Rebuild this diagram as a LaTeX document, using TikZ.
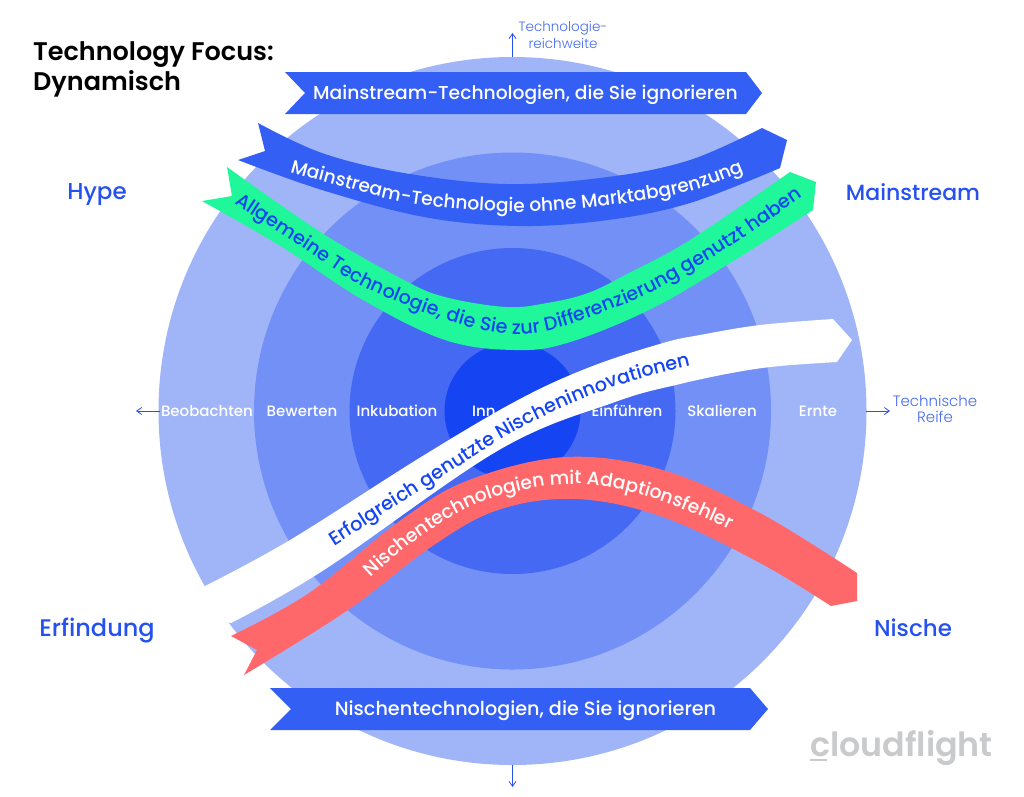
\documentclass[tikz,border=0pt]{standalone}
\usepackage{fontspec}
\setmainfont{Poppins Medium}[BoldFont={Poppins SemiBold}]
\newfontfamily\lightfont{Poppins Light}
\usetikzlibrary{decorations.text,arrows.meta}
\definecolor{ringA}{HTML}{A0B5F8}
\definecolor{ringB}{HTML}{7290F6}
\definecolor{ringC}{HTML}{4569F3}
\definecolor{ringD}{HTML}{1544F2}
\definecolor{ribbonblue}{HTML}{335FF5}
\definecolor{ribbongreen}{HTML}{20F79B}
\definecolor{ribbonred}{HTML}{FF686B}
\definecolor{labelblue}{HTML}{2451F0}
\definecolor{logogray}{HTML}{C9CACC}
\newcommand{\fs}[1]{\fontsize{#1}{#1}\selectfont}
\tikzset{
  ringlabel/.style={text=white,font=\fs{15},inner sep=0pt,anchor=base},
  cornerlabel/.style={text=labelblue,font=\fs{22.5},inner sep=0pt,anchor=base},
  axislabel/.style={text=labelblue!85!white,align=center,inner sep=0pt,anchor=center},
  bannerlabel/.style={text=white,inner sep=0pt,anchor=base},
  titlelabel/.style={anchor=base west,text=black,font=\bfseries\fs{25.5},inner sep=0pt},
  axisarrow/.style={draw=labelblue,line width=0.8pt,-{Straight Barb[length=5pt,width=7pt]}},
}
\begin{document}
\begin{tikzpicture}[x=1pt,y=-1pt]
\useasboundingbox (0,0) rectangle (1024,796);
\fill[white] (0,0) rectangle (1024,796);
% rings
\fill[ringA] (512.5,411) circle[radius=354pt];
\fill[ringB] (512.5,411) circle[radius=258.5pt];
\fill[ringC] (512.5,411) circle[radius=163pt];
\fill[ringD] (512.5,411) circle[radius=68pt];
% axis arrows
\coordinate (axTopA) at (512.5,57); \coordinate (axTopB) at (512.5,33);
\coordinate (axLeftA) at (160,411); \coordinate (axLeftB) at (136,411);
\coordinate (axRightA) at (866,411); \coordinate (axRightB) at (890,411);
\coordinate (axBotA) at (512.5,765); \coordinate (axBotB) at (512.5,787);
\draw[axisarrow] (axTopA) -- (axTopB);
\draw[axisarrow] (axLeftA) -- (axLeftB);
\draw[axisarrow] (axRightA) -- (axRightB);
\draw[axisarrow] (axBotA) -- (axBotB);
% ring labels
\node[ringlabel] (lbeo) at (207,416) {Beobachten};
\node[ringlabel] (lbew) at (302,416) {Bewerten};
\node[ringlabel] (link) at (397,416) {Inkubation};
\node[ringlabel,anchor=base west] (linn) at (472,416) {Inn};
\node[ringlabel] (lein) at (627,416) {Einführen};
\node[ringlabel] (lska) at (722,416) {Skalieren};
\node[ringlabel] (lern) at (818,416) {Ernte};
% banners
\fill[ribbonblue] (285,72) -- (746,72) -- (762,93) -- (746,114) -- (285,114) -- (305,93) -- cycle;
\fill[ribbonblue] (270,688) -- (750,688) -- (768,709) -- (750,730) -- (270,730) -- (291,709) -- cycle;
\node[bannerlabel,font=\fs{18.7}] (btop) at (525.5,99) {Mainstream-Technologien, die Sie ignorieren};
\node[bannerlabel,font=\fs{19.2}] (bbot) at (525.5,715) {Nischentechnologien, die Sie ignorieren};
% blue ribbon
\fill[ribbonblue] (258,123) -- (265,151) -- (238,160)
  -- plot[smooth,tension=0.6] coordinates {(238,160) (322,190) (424,217) (518,226) (608,220) (690,203) (780,168)}
  -- (787,140) -- (762,128)
  -- plot[smooth,tension=0.6] coordinates {(762,128) (690,160) (608,177) (506,184) (404,173) (322,153) (258,123)} -- cycle;
\path[decorate,decoration={text along path,text color=white,text align=left,
  text={|\fs{18.6}|Mainstream-Technologie ohne Marktabgrenzung}}]
  plot[smooth,tension=0.6] coordinates {(290,172) (322,181) (410,203) (515,212) (610,205) (690,191) (760,165) (790,150)};
% green ribbon
\fill[ribbongreen] (227,167) -- (232,196) -- (202,201)
  -- plot[smooth,tension=0.6] coordinates {(202,201) (282,247) (363,300) (445,340) (514,350) (567,343) (649,310) (730,263) (813,210)}
  -- (816,182) -- (790,172)
  -- plot[smooth,tension=0.6] coordinates {(790,172) (690,240) (629,273) (588,293) (547,303) (506,307) (445,297) (404,280) (322,233) (227,167)} -- cycle;
\path[decorate,decoration={text along path,text color=ringD,text align=left,
  text={|\fs{19.2}|Allgemeine Technologie, die Sie zur Differenzierung genutzt haben}}]
  plot[smooth,tension=0.6] coordinates {(234,203) (299,245) (381,295) (510,334) (620,306) (713,257) (804,196) (830,178)};
% white ribbon
\fill[white] (190,615) -- (205,586) -- plot[smooth,tension=0.6] coordinates {(205,586) (290,540) (421,457) (518,400) (590,367) (663,343) (700,335) (760,325) (833,319)}
  -- (852,340) -- (837,362)
  -- plot[smooth,tension=0.6] coordinates {(837,362) (780,366) (737,372) (680,384) (615,402) (499,450) (324,570) (231,623)} -- cycle;
\path[decorate,decoration={text along path,text color=ringD,text align=left,
  text={|\fs{19.2}|Erfolgreich genutzte Nischeninnovationen}}]
  plot[smooth,tension=0.6] coordinates {(334,546) (433,483) (516,431) (603,391) (690,366) (760,355) (800,350)};
% red ribbon
\fill[ribbonred] (231,636) -- (257,650) -- (244,675)
  -- plot[smooth,tension=0.6] coordinates {(244,675) (348,610) (431,547) (498,510) (576,499) (663,517) (760,563) (831,606)}
  -- (857,601) -- (857,573)
  -- plot[smooth,tension=0.6] coordinates {(857,573) (760,513) (663,470) (566,457) (469,480) (401,520) (309,593) (231,636)} -- cycle;
\path[decorate,decoration={text along path,text color=white,text align=left,
  text={|\fs{18.8}|Nischentechnologien mit Adaptionsfehler}}]
  plot[smooth,tension=0.6] coordinates {(371,578) (419,538) (487,500) (571,484) (652,498) (745,537) (800,575)};
% texts
\node[titlelabel] (t1) at (33,60) {Technology Focus:};
\node[titlelabel] (t2) at (33,90) {Dynamisch};
\node[cornerlabel,font=\fs{23}] (chype) at (97,199) {Hype};
\node[cornerlabel,font=\fs{22}] (cmain) at (913,200) {Mainstream};
\node[cornerlabel,font=\fs{24}] (cerf) at (97,636) {Erfindung};
\node[cornerlabel,font=\fs{23}] (cnis) at (913,636) {Nische};
\node[axislabel,font=\lightfont\fs{13.5}] (atop) at (563,35) {Technologie-\\[1.5pt]reichweite};
\node[axislabel,font=\lightfont\fs{15}] (aright) at (935,409) {Technische\\[1pt]Reife};
% logo
\node[anchor=base west,text=logogray,font=\bfseries\fs{33.3},inner sep=0pt] (logo) at (810,756) {cloudflight};
\coordinate (logoA) at (810,760); \coordinate (logoB) at (827,760);
\draw[logogray,line width=2.5pt] (logoA) -- (logoB);
\end{tikzpicture}
\end{document}
